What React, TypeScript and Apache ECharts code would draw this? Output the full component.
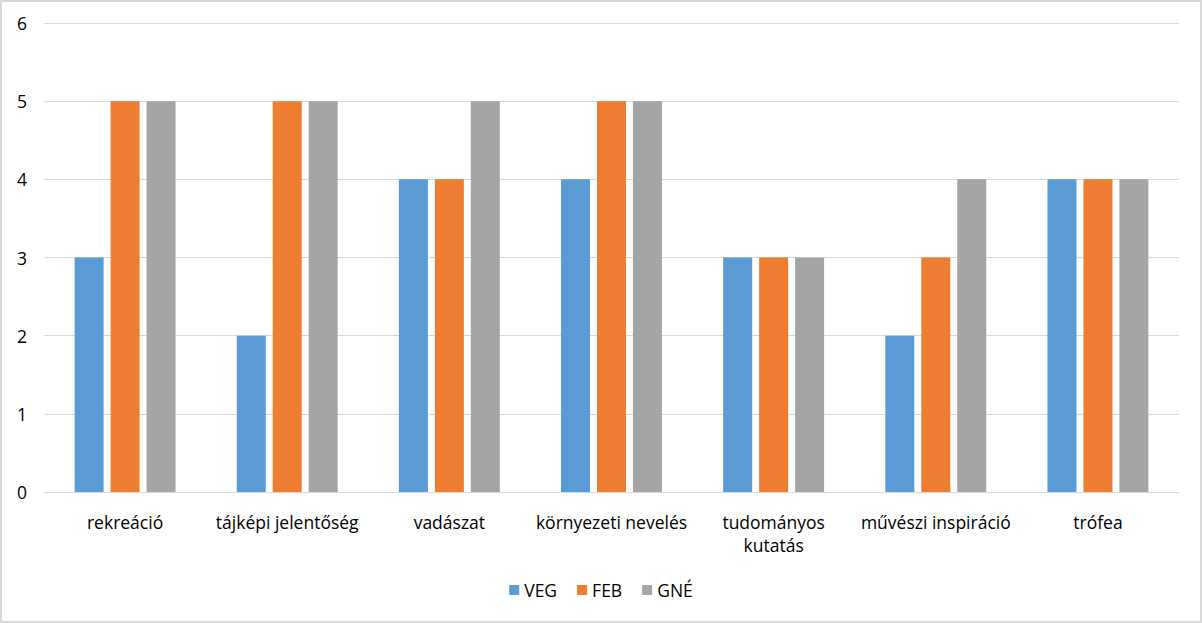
import React, { useEffect, useRef } from "react";
import * as echarts from "echarts";

const categories = [
  "rekreáció",
  "tájképi jelentőség",
  "vadászat",
  "környezeti nevelés",
  "tudományos\nkutatás",
  "művészi inspiráció",
  "trófea",
];
const VEG = [3, 2, 4, 4, 3, 2, 4];
const FEB = [5, 5, 4, 5, 3, 3, 4];
const GNE = [5, 5, 5, 5, 3, 4, 4];
const seriesNames = ["VEG", "FEB", "GNÉ"];
const colors = ["#5B9BD5", "#ED7D31", "#A5A5A5"];

const FONT = "'Open Sans', sans-serif";

export default function App() {
  const ref = useRef<HTMLDivElement>(null);
  useEffect(() => {
    document.body.style.margin = "0";
    const chart = echarts.init(ref.current!, null, { renderer: "svg" });
    const data = [VEG, FEB, GNE];
    chart.setOption({
      animation: false,
      backgroundColor: "#fff",
      textStyle: { fontFamily: FONT },
      grid: { left: 42, right: 21, top: 21, bottom: 129, containLabel: false },
      legend: {
        bottom: 17,
        left: "center",
        itemWidth: 10,
        itemHeight: 10,
        itemGap: 20,
        icon: "rect",
        textStyle: { fontSize: 17.5, color: "#000", fontFamily: FONT },
        data: seriesNames,
      },
      xAxis: {
        type: "category",
        data: categories,
        axisLine: { lineStyle: { color: "#D9D9D9", width: 1 } },
        axisTick: { show: false },
        axisLabel: { fontSize: 17.5, color: "#000", margin: 18, lineHeight: 23, interval: 0, fontFamily: FONT },
      },
      yAxis: {
        type: "value",
        min: 0,
        max: 6,
        interval: 1,
        axisLine: { show: false },
        axisTick: { show: false },
        splitLine: { lineStyle: { color: "#D9D9D9", width: 1 } },
        axisLabel: { fontSize: 17.5, color: "#000", margin: 17, fontFamily: FONT },
      },
      series: data.map((d, i) => ({
        name: seriesNames[i],
        type: "bar",
        data: d,
        barWidth: 29,
        barGap: "24%",
        itemStyle: { color: colors[i] },
      })),
    });
    return () => chart.dispose();
  }, []);
  return (
    <div
      style={{
        width: 1202,
        height: 623,
        boxSizing: "border-box",
        border: "2px solid #D9D9D9",
        background: "#fff",
      }}
    >
      <div ref={ref} style={{ width: 1198, height: 619 }} />
    </div>
  );
}
